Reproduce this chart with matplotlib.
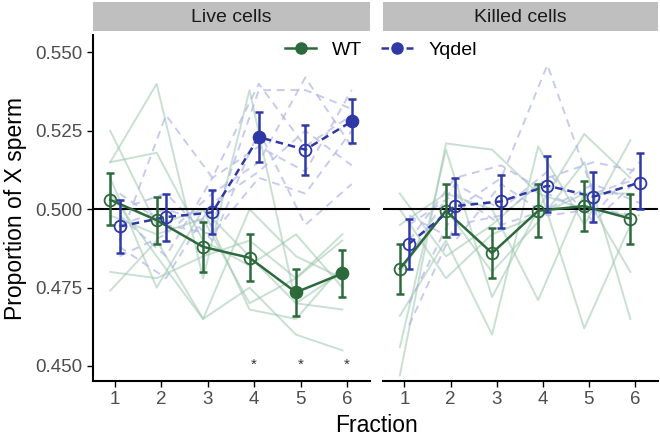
import matplotlib
matplotlib.use("Agg")
import matplotlib.pyplot as plt
from matplotlib.lines import Line2D
import numpy as np

plt.rcParams['font.family'] = ['Liberation Sans', 'DejaVu Sans']

fractions = [1, 2, 3, 4, 5, 6]
panels = ["Live cells", "Killed cells"]

# group means and error limits
wt_live_mean = [0.503, 0.4965, 0.488, 0.4845, 0.4735, 0.4795]
wt_live_lo = [0.495, 0.489, 0.480, 0.477, 0.466, 0.472]
wt_live_hi = [0.5115, 0.504, 0.496, 0.492, 0.481, 0.487]
wt_live_filled = [False, False, False, False, True, True]

yq_live_mean = [0.4945, 0.4975, 0.499, 0.523, 0.519, 0.528]
yq_live_lo = [0.486, 0.490, 0.492, 0.515, 0.511, 0.521]
yq_live_hi = [0.503, 0.505, 0.506, 0.531, 0.527, 0.535]
yq_live_filled = [False, False, False, True, False, True]

wt_killed_mean = [0.481, 0.4995, 0.486, 0.4995, 0.501, 0.497]
wt_killed_lo = [0.473, 0.491, 0.478, 0.491, 0.493, 0.489]
wt_killed_hi = [0.489, 0.508, 0.494, 0.508, 0.509, 0.505]
wt_killed_filled = [False] * 6

yq_killed_mean = [0.489, 0.501, 0.5025, 0.5075, 0.504, 0.5085]
yq_killed_lo = [0.481, 0.492, 0.494, 0.499, 0.496, 0.500]
yq_killed_hi = [0.497, 0.510, 0.511, 0.517, 0.512, 0.518]
yq_killed_filled = [False] * 6

# individual replicate lines
wt_live_lines = [
    [0.525, 0.495, 0.500, 0.485, 0.470, 0.480],
    [0.515, 0.540, 0.478, 0.538, 0.470, 0.468],
    [0.515, 0.518, 0.490, 0.482, 0.492, 0.475],
    [0.480, 0.478, 0.485, 0.490, 0.478, 0.492],
    [0.474, 0.490, 0.465, 0.475, 0.460, 0.455],
    [0.505, 0.485, 0.465, 0.500, 0.485, 0.478],
    [0.498, 0.492, 0.497, 0.470, 0.478, 0.490],
    [0.510, 0.475, 0.500, 0.468, 0.465, 0.482],
]
yq_live_lines = [
    [0.490, 0.530, 0.510, 0.540, 0.520, 0.530],
    [0.495, 0.500, 0.495, 0.538, 0.538, 0.532],
    [0.485, 0.492, 0.505, 0.515, 0.542, 0.520],
    [0.500, 0.505, 0.490, 0.525, 0.495, 0.508],
    [0.498, 0.485, 0.510, 0.520, 0.512, 0.538],
    [0.505, 0.495, 0.492, 0.510, 0.505, 0.525],
    [0.488, 0.478, 0.502, 0.512, 0.525, 0.514],
]
wt_killed_lines = [
    [0.447, 0.521, 0.519, 0.505, 0.500, 0.498],
    [0.456, 0.519, 0.472, 0.500, 0.524, 0.510],
    [0.466, 0.490, 0.460, 0.520, 0.495, 0.522],
    [0.495, 0.505, 0.500, 0.471, 0.505, 0.480],
    [0.505, 0.485, 0.495, 0.508, 0.462, 0.495],
    [0.480, 0.500, 0.480, 0.496, 0.515, 0.465],
    [0.500, 0.478, 0.492, 0.498, 0.505, 0.505],
]
yq_killed_lines = [
    [0.470, 0.500, 0.510, 0.546, 0.505, 0.510],
    [0.463, 0.495, 0.498, 0.510, 0.515, 0.512],
    [0.490, 0.510, 0.514, 0.505, 0.498, 0.515],
    [0.495, 0.505, 0.495, 0.500, 0.508, 0.502],
    [0.498, 0.490, 0.508, 0.498, 0.500, 0.498],
    [0.485, 0.508, 0.500, 0.512, 0.496, 0.510],
]

star_fractions = [4, 5, 6]

wt_col = '#2c6a3c'
yq_col = '#2e39a6'
wt_light = '#9cc7ae'
yq_light = '#b0b5e6'

fig = plt.figure(figsize=(6.6, 4.4), dpi=100)
ax_l = fig.add_axes([0.141, 0.134, 0.420, 0.786])
ax_r = fig.add_axes([0.580, 0.134, 0.417, 0.786])

data = [
    (ax_l, wt_live_lines, yq_live_lines,
     (wt_live_mean, wt_live_lo, wt_live_hi, wt_live_filled),
     (yq_live_mean, yq_live_lo, yq_live_hi, yq_live_filled)),
    (ax_r, wt_killed_lines, yq_killed_lines,
     (wt_killed_mean, wt_killed_lo, wt_killed_hi, wt_killed_filled),
     (yq_killed_mean, yq_killed_lo, yq_killed_hi, yq_killed_filled)),
]

x = np.array(fractions, dtype=float)
dodge = 0.1

for ax, wl, yl, wt, yq in data:
    for ln in wl:
        ax.plot(x - dodge, ln, color=wt_light, lw=1.4, alpha=0.55, zorder=1)
    for ln in yl:
        ax.plot(x + dodge, ln, color=yq_light, lw=1.4, ls=(0, (4, 3)), alpha=0.7, zorder=1)
    ax.axhline(0.5, color='black', lw=1.5, zorder=2)
    for (m, lo, hi, filled), col, off, ls in [(wt, wt_col, -dodge, '-'), (yq, yq_col, dodge, (0, (3, 2)))]:
        m = np.array(m)
        xs = x + off
        ax.plot(xs, m, color=col, lw=1.8, ls=ls, zorder=3)
        ax.errorbar(xs, m, yerr=[m - np.array(lo), np.array(hi) - m], fmt='none',
                    ecolor=col, elinewidth=1.8, capsize=3, capthick=1.8, zorder=4)
        for xi, yi, f in zip(xs, m, filled):
            ax.plot(xi, yi, 'o', ms=8.5, mfc=col if f else 'none',
                    mec=col, mew=1.3, zorder=5)
    ax.set_xlim(0.53, 6.5)
    ax.set_ylim(0.4452, 0.5555)
    ax.set_xticks(fractions)
    ax.tick_params(axis='both', labelsize=13.5, labelcolor='#4d4d4d', length=4, width=1, direction='out')
    for s in ['top', 'right']:
        ax.spines[s].set_visible(False)
    ax.spines['bottom'].set_linewidth(1.5)
    ax.spines['left'].set_linewidth(1.5)

ax_l.set_yticks([0.450, 0.475, 0.500, 0.525, 0.550])
ax_l.set_yticklabels(['0.450', '0.475', '0.500', '0.525', '0.550'])
ax_r.set_yticks([])
ax_r.spines['left'].set_visible(False)

for f in star_fractions:
    ax_l.text(f, 0.4503, '*', ha='center', va='center', fontsize=11, color='#333333')

# facet strips
for ax, title in zip([ax_l, ax_r], panels):
    pos = ax.get_position()
    sax = fig.add_axes([pos.x0, 0.930, pos.width, 0.066])
    sax.set_facecolor('#bfbfbf')
    sax.set_xticks([])
    sax.set_yticks([])
    for s in sax.spines.values():
        s.set_visible(False)
    sax.text(0.5, 0.45, title, ha='center', va='center', fontsize=14, color='#1a1a1a',
             transform=sax.transAxes)

fig.text(0.024, 0.527, 'Proportion of X sperm', rotation=90, ha='center', va='center', fontsize=16.5)
fig.text(0.57, 0.034, 'Fraction', ha='center', va='center', fontsize=16.5)

handles = [
    Line2D([0], [0], color=wt_col, lw=1.8, marker='o', ms=8, mfc=wt_col, mec=wt_col),
    Line2D([0], [0], color=yq_col, lw=1.8, ls=(0, (3, 2)), marker='o', ms=8, mfc=yq_col, mec=yq_col),
]
fig.legend(handles, ['WT', 'Yqdel'], loc='center', bbox_to_anchor=(0.577, 0.886), ncol=2,
           frameon=False, fontsize=14, handlelength=1.6, columnspacing=1.0, handletextpad=0.8)

fig.savefig('out.png', dpi=100)
